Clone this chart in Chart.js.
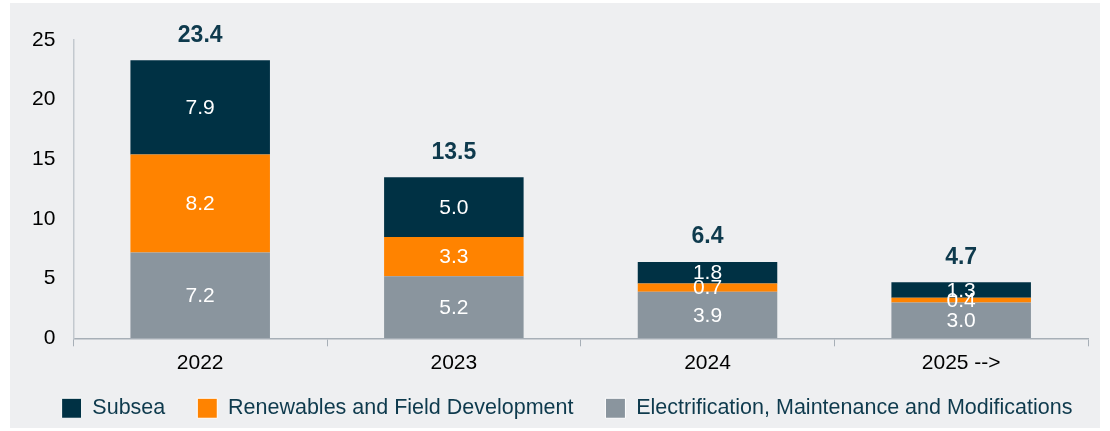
<!DOCTYPE html>
<html>
<head>
<meta charset="utf-8">
<script src="https://cdn.jsdelivr.net/npm/chart.js@4"></script>
<style>
  body { margin: 0; background: #ffffff; }
  #box { position: absolute; left: 10px; top: 3px; width: 1090px; height: 425px; background: #eeeff1; }
</style>
</head>
<body>
<div id="box"><canvas id="grafico-barre"></canvas></div>
<script>
var anni = ['2022', '2023', '2024', '2025 -->'];
var electrification = [7.2, 5.2, 3.9, 3.0];
var renewables = [8.2, 3.3, 0.7, 0.4];
var subsea = [7.9, 5.0, 1.8, 1.3];
var totali = ['23.4', '13.5', '6.4', '4.7'];
var yTicks = [0, 5, 10, 15, 20, 25];

var etichette = {
    id: 'etichette',
    afterDatasetsDraw: function (chart) {
        var ctx = chart.ctx;
        ctx.save();
        ctx.textAlign = 'center';
        ctx.textBaseline = 'middle';
        ctx.fillStyle = '#ffffff';
        ctx.font = '21px "Liberation Sans", Arial, sans-serif';
        chart.data.datasets.forEach(function (ds, i) {
            chart.getDatasetMeta(i).data.forEach(function (bar, j) {
                ctx.fillText(ds.data[j].toFixed(1), bar.x, (bar.y + bar.base) / 2 + 1);
            });
        });
        // totali sopra le barre
        var top = chart.getDatasetMeta(chart.data.datasets.length - 1).data;
        ctx.fillStyle = '#0e3a4d';
        ctx.font = 'bold 23px "Liberation Sans", Arial, sans-serif';
        top.forEach(function (bar, j) {
            ctx.fillText(totali[j], bar.x, bar.y - 25);
        });
        ctx.restore();
    }
};

// legenda su una riga, piu' bassa ma con voci piu' distanziate
var legendaFix = {
    id: 'legendaFix',
    afterInit: function (chart) {
        var lg = chart.legend;
        var fit = lg.fit;
        var draw = lg.draw;
        lg.fit = function () {
            var mw = this.maxWidth;
            this.maxWidth = 4000;
            fit.call(this);
            this.maxWidth = mw;
            this.width = mw;
            this.height -= 15;
        };
        lg.draw = function (area) {
            this.top -= 14; this.left -= 484; this.right += 516;
            draw.call(this, area);
            this.top += 14; this.left += 484; this.right -= 516;
        };
    }
};

var ctx = document.getElementById('grafico-barre');
new Chart(ctx, {
    type: 'bar',
    data: {
        labels: anni,
        datasets: [{
            label: 'Electrification, Maintenance and Modifications',
            backgroundColor: '#8a959e',
            data: electrification
        }, {
            label: 'Renewables and Field Development',
            backgroundColor: '#ff8300',
            data: renewables
        }, {
            label: 'Subsea',
            backgroundColor: '#003144',
            data: subsea
        }]
    },
    options: {
        responsive: true,
        maintainAspectRatio: false,
        animation: false,
        layout: { padding: { top: 37, right: 12, left: 4, bottom: 0 } },
        datasets: { bar: { categoryPercentage: 1, barPercentage: 0.55 } },
        scales: {
            x: {
                stacked: true,
                grid: { display: true, drawOnChartArea: false, drawTicks: true, tickLength: 8, color: '#a7afb7' },
                border: { display: true, color: '#a7afb7', width: 1.5 },
                ticks: { color: '#000000', font: { size: 21, family: '"Liberation Sans", Arial, sans-serif' }, padding: 4 }
            },
            y: {
                stacked: true,
                min: 0,
                max: 25,
                afterBuildTicks: function (scale) {
                    scale.ticks = yTicks.map(function (v) { return { value: v }; });
                },
                grid: { display: false, drawTicks: false },
                border: { display: true, color: '#c3c9cf', width: 1.5 },
                ticks: { color: '#000000', font: { size: 21, family: '"Liberation Sans", Arial, sans-serif' }, padding: 18 }
            }
        },
        plugins: {
            tooltip: { enabled: false },
            legend: {
                position: 'bottom',
                reverse: true,
                labels: {
                    boxWidth: 20,
                    boxHeight: 20,
                    padding: 32,
                    color: '#0e3a4d',
                    font: { size: 21.5, family: '"Liberation Sans", Arial, sans-serif' },
                    generateLabels: function (chart) {
                        var items = Chart.defaults.plugins.legend.labels.generateLabels(chart);
                        items.forEach(function (it) { it.strokeStyle = '#ffffff'; it.lineWidth = 1; });
                        return items;
                    }
                }
            }
        }
    },
    plugins: [etichette, legendaFix]
});
</script>
</body>
</html>
